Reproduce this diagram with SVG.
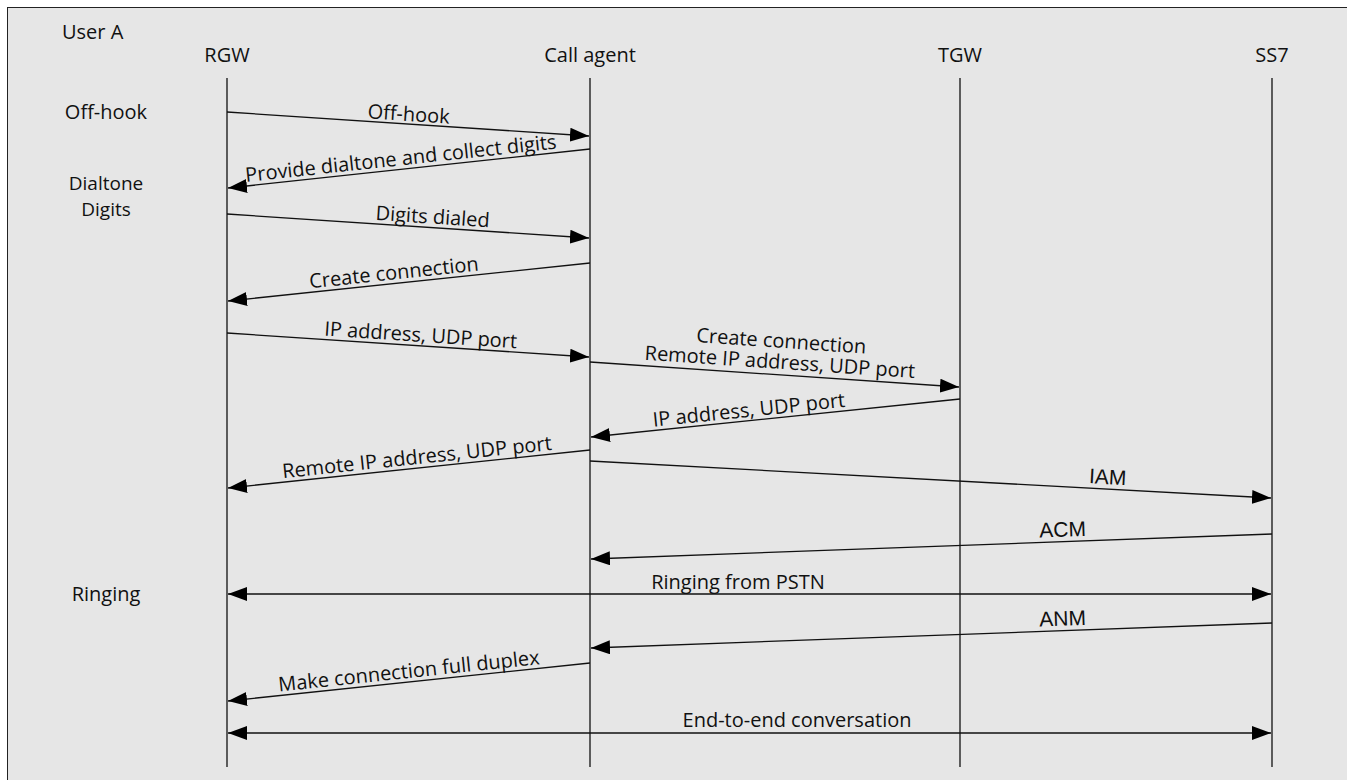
<svg xmlns="http://www.w3.org/2000/svg" width="1347" height="780" viewBox="0 0 1347 780">
<style>
  .t { font-family: "Open Sans", "Liberation Sans", sans-serif; font-size: 20px; fill: #111; }
  .s { font-family: "Open Sans", "Liberation Sans", sans-serif; font-size: 19px; fill: #111; }
  .a { font-family: "Liberation Sans", Arial, sans-serif; font-size: 21px; fill: #111; }
  .life { stroke: #111; stroke-width: 1.3; fill: none; }
  .msg { stroke: #111; stroke-width: 1.3; fill: none; marker-end: url(#ah); }
  .dbl { stroke: #111; stroke-width: 1.3; fill: none; marker-end: url(#ah); marker-start: url(#ahs); }
</style>
<defs>
  <marker id="ah" markerUnits="userSpaceOnUse" markerWidth="20" markerHeight="14" refX="19" refY="7" orient="auto">
    <path d="M0,0 L19,7 L0,14 z" fill="#000"/>
  </marker>
  <marker id="ahs" markerUnits="userSpaceOnUse" markerWidth="20" markerHeight="14" refX="19" refY="7" orient="auto-start-reverse">
    <path d="M0,0 L19,7 L0,14 z" fill="#000"/>
  </marker>
</defs>
<rect x="0" y="0" width="1347" height="780" fill="#ffffff"/>
<rect x="7.5" y="7.5" width="1350" height="790" fill="#e6e6e6" stroke="#222" stroke-width="1"/>

<g id="side-labels">
  <text class="t" x="62" y="39">User A</text>
  <text class="t" x="106" y="119" text-anchor="middle">Off-hook</text>
  <text class="s" x="106" y="190" text-anchor="middle">Dialtone</text>
  <text class="s" x="106" y="216" text-anchor="middle">Digits</text>
  <text class="t" x="106" y="601" text-anchor="middle">Ringing</text>
</g>

<g id="node-rgw">
  <text class="t" x="227" y="62" text-anchor="middle">RGW</text>
  <line class="life" x1="227" y1="78" x2="227" y2="767"/>
</g>
<g id="node-callagent">
  <text class="t" x="590" y="62" text-anchor="middle">Call agent</text>
  <line class="life" x1="590" y1="78" x2="590" y2="767"/>
</g>
<g id="node-tgw">
  <text class="t" x="960" y="62" text-anchor="middle">TGW</text>
  <line class="life" x1="960" y1="78" x2="960" y2="767"/>
</g>
<g id="node-ss7">
  <text class="t" x="1272" y="62" text-anchor="middle">SS7</text>
  <line class="life" x1="1272" y1="78" x2="1272" y2="767"/>
</g>

<g id="connectors">
  <line class="msg" x1="227" y1="112" x2="589" y2="136"/>
  <line class="msg" x1="590" y1="149" x2="228" y2="188"/>
  <line class="msg" x1="227" y1="214" x2="589" y2="238"/>
  <line class="msg" x1="590" y1="263" x2="228" y2="301"/>
  <line class="msg" x1="227" y1="333" x2="589" y2="357"/>
  <line class="msg" x1="590" y1="362" x2="959" y2="387"/>
  <line class="msg" x1="960" y1="399" x2="591" y2="437"/>
  <line class="msg" x1="590" y1="450" x2="228" y2="488"/>
  <line class="msg" x1="590" y1="461" x2="1271" y2="498"/>
  <line class="msg" x1="1272" y1="534" x2="591" y2="559"/>
  <line class="dbl" x1="228" y1="594" x2="1271" y2="594"/>
  <line class="msg" x1="1272" y1="623" x2="591" y2="648"/>
  <line class="msg" x1="590" y1="663" x2="228" y2="701"/>
  <line class="dbl" x1="228" y1="733" x2="1271" y2="733"/>
</g>

<g id="connector-labels">
  <text class="t" text-anchor="middle" transform="translate(408,124) rotate(3.79)" x="0" y="-3">Off-hook</text>
  <text class="t" text-anchor="middle" transform="translate(402,169.2) rotate(-6.17)" x="0" y="-4">Provide dialtone and collect digits</text>
  <text class="t" text-anchor="middle" transform="translate(432,227.6) rotate(3.79)" x="0" y="-4">Digits dialed</text>
  <text class="t" text-anchor="middle" transform="translate(395,283.4) rotate(-6.01)" x="0" y="-4">Create connection</text>
  <text class="t" text-anchor="middle" transform="translate(420,345.8) rotate(3.79)" x="0" y="-4">IP address, UDP port</text>
  <text class="t" text-anchor="middle" transform="translate(779,374.8) rotate(3.89)" x="0" y="-27">Create connection</text>
  <text class="t" text-anchor="middle" transform="translate(779,374.8) rotate(3.89)" x="0" y="-6">Remote IP address, UDP port</text>
  <text class="t" text-anchor="middle" transform="translate(750,420.7) rotate(-5.9)" x="0" y="-4">IP address, UDP port</text>
  <text class="t" text-anchor="middle" transform="translate(418,468) rotate(-6.01)" x="0" y="-4">Remote IP address, UDP port</text>
  <text class="a" text-anchor="middle" transform="translate(1107,489.1) rotate(3.11)" x="0" y="-5">IAM</text>
  <text class="a" text-anchor="middle" transform="translate(1063,541.7) rotate(-2.1)" x="0" y="-5">ACM</text>
  <text class="t" text-anchor="middle" x="738" y="589">Ringing from PSTN</text>
  <text class="a" text-anchor="middle" transform="translate(1063,630.7) rotate(-2.1)" x="0" y="-5">ANM</text>
  <text class="t" text-anchor="middle" transform="translate(410,681.8) rotate(-6.01)" x="0" y="-4">Make connection full duplex</text>
  <text class="t" text-anchor="middle" x="797" y="727">End-to-end conversation</text>
</g>
</svg>
